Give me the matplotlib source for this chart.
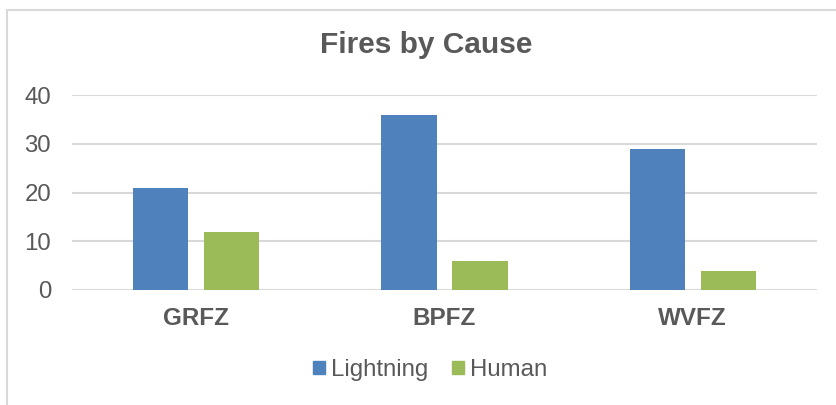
import numpy as np
import matplotlib
matplotlib.use("Agg")
import matplotlib.pyplot as plt
from matplotlib.patches import Rectangle, Patch

plt.rcParams['font.family'] = ['Liberation Sans', 'DejaVu Sans']

zones = ["GRFZ", "BPFZ", "WVFZ"]
lightning = [21, 36, 29]
human = [12, 6, 4]
yticks = [0, 10, 20, 30, 40]

blue = "#4F81BD"
green = "#9BBB59"
textcol = "#595959"
gridcol = "#D9D9D9"

W, H = 836, 405
fig = plt.figure(figsize=(W / 100, H / 100), dpi=100)

# chart frame
fig.patches.append(Rectangle((6.5 / W, -0.05), 1.0, (H - 9.5) / H + 0.05,
                             transform=fig.transFigure, fill=False,
                             edgecolor=gridcol, linewidth=1.5))

ax = fig.add_axes([72 / W, (H - 290) / H, (817 - 72) / W, (290 - 95) / H])

x = np.arange(len(zones))
width = 0.222
off = 0.143
ax.bar(x - off, lightning, width, color=blue, label="Lightning", zorder=3)
ax.bar(x + off, human, width, color=green, label="Human", zorder=3)

ax.set_xlim(-0.5, len(zones) - 0.5)
ax.set_ylim(0, 40)
ax.set_yticks(yticks)
ax.set_xticks(x)
ax.set_xticklabels(zones, fontsize=17.5, fontweight="bold", color=textcol)
ax.tick_params(axis="y", labelsize=17.3, colors=textcol, length=0, pad=15)
ax.tick_params(axis="x", length=0, pad=12)
ax.grid(axis="y", color=gridcol, linewidth=1.5, zorder=0)
for s in ax.spines.values():
    s.set_visible(False)

fig.text(426 / W, 1 - 45 / H, "Fires by Cause", ha="center", va="center",
         fontsize=21.5, fontweight="bold", color=textcol)

handles = [Patch(color=blue), Patch(color=green)]
leg = fig.legend(handles, ["Lightning", "Human"], loc="center",
                 bbox_to_anchor=(430 / W, 1 - 370 / H), ncol=2, frameon=False,
                 fontsize=17.3, handlelength=0.5, handleheight=0.5,
                 handletextpad=0.25, columnspacing=1.0)
for t in leg.get_texts():
    t.set_color(textcol)

fig.savefig("out.png", dpi=100)
